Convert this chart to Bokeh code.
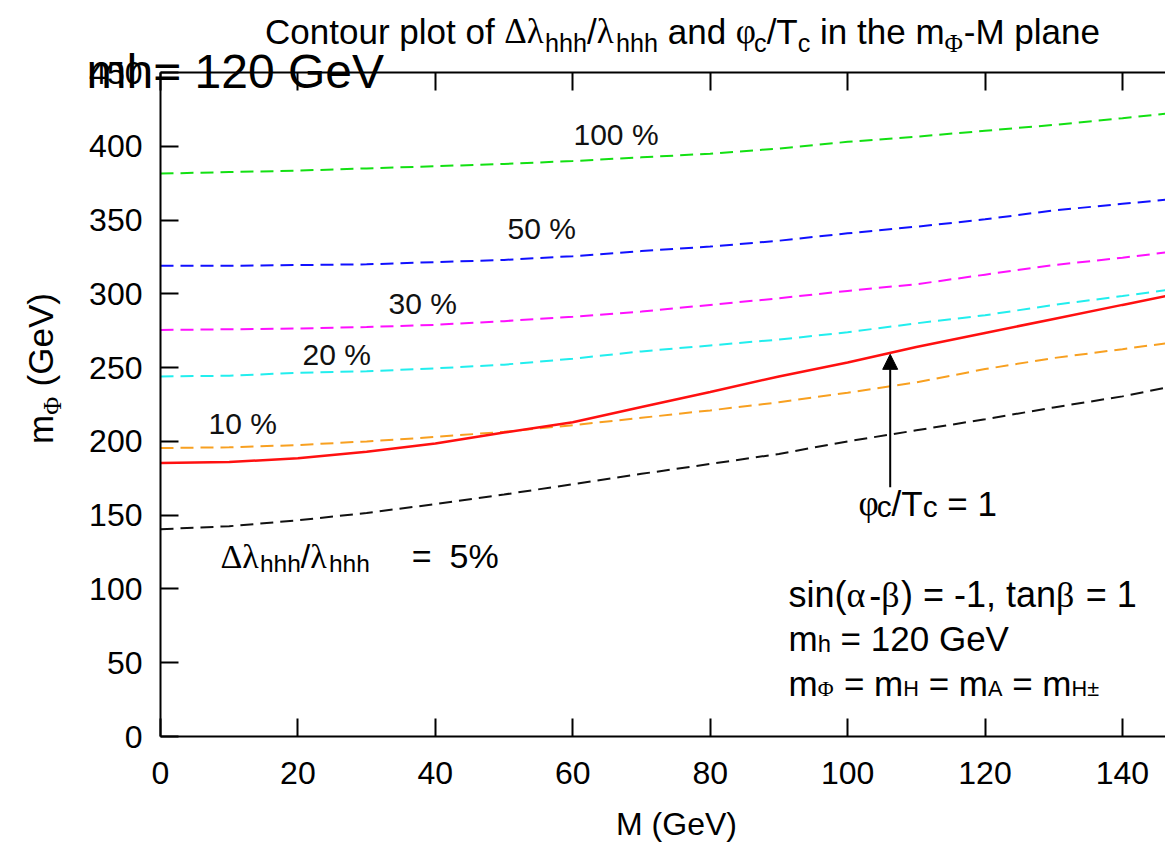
import math
from bokeh.plotting import figure
from bokeh.models import Label, Arrow, NormalHead, LinearAxis, FixedTicker, Range1d
from bokeh.embed import file_html
from bokeh.resources import INLINE

# ---------------- data ----------------
M = [0, 10, 20, 30, 40, 50, 60, 70, 80, 90, 100, 110, 120, 130, 140, 148]
dl_100 = [381.5, 382.5, 383.5, 385, 386.5, 388, 390, 392.5, 395, 398.5, 403, 406.5, 410.5, 414.5, 419, 423]
dl_50 = [319, 319, 319.5, 320, 321.5, 323, 325.5, 329, 332, 336, 341, 345.5, 350.5, 356.5, 361, 364.5]
dl_30 = [275.5, 276, 276.5, 277.5, 279, 281.5, 284.5, 288, 292.5, 297, 302, 306.5, 313, 319.5, 324.5, 329]
dl_20 = [244, 244.5, 246.5, 247.5, 249.5, 252, 256, 261, 265, 269, 274, 280, 285.5, 292.5, 298.5, 303.5]
dl_10 = [195.5, 196, 197.5, 200, 203, 206.5, 211, 216, 221, 226.5, 233, 240, 249, 256.5, 262.5, 267.5]
dl_5 = [140.5, 142.5, 146.5, 151.5, 157.5, 164, 171, 178, 184.7, 191.5, 200, 207.5, 215, 223, 230.5, 238]
phi_tc_1 = [185.3, 186, 188.5, 193, 198.5, 206, 213, 223.3, 233.5, 244, 253.5, 264, 273.5, 283, 292.5, 300]

x_ticks = [0, 20, 40, 60, 80, 100, 120, 140]
y_ticks = [0, 50, 100, 150, 200, 250, 300, 350, 400, 450]
Y_MAX = 450

# ---------------- geometry ----------------
W_FIG, H_FIG = 1165, 845
X0, Y0 = 160.0, 736.0          # canvas px of the data origin
XS = 6.871                      # px per unit of M
YS = (Y0 - 72.0) / Y_MAX        # px per unit of m_Phi
X_START, X_END = -X0 / XS, (W_FIG - X0) / XS
Y_START, Y_END = (Y0 - H_FIG) / YS, Y0 / YS
MID = 0.355                     # baseline lies this many em below a 'middle' anchor


def dx(px):   # canvas px -> data x
    return (px - X0) / XS


def dy(py):   # canvas px -> data y
    return (Y0 - py) / YS


p = figure(width=W_FIG, height=H_FIG,
           x_range=Range1d(X_START, X_END), y_range=Range1d(Y_START, Y_END),
           output_backend="svg", toolbar_location=None, title_location=None,
           x_axis_location=None, y_axis_location=None,
           min_border=0, min_border_left=0, min_border_right=0,
           min_border_top=0, min_border_bottom=0)
p.outline_line_color = None
p.grid.visible = False
p.background_fill_color = "white"
p.border_fill_color = "white"

FONT = "Liberation Sans"
SERIF_FONT = "Liberation Serif"


def make_axis(ticks, loc, bounds, labels=True, standoff=20):
    ax = LinearAxis(fixed_location=loc, bounds=bounds)
    ax.ticker = FixedTicker(ticks=ticks)
    ax.major_tick_in = 18
    ax.major_tick_out = 0
    ax.minor_tick_line_color = None
    ax.axis_line_width = 2
    ax.major_tick_line_width = 2
    ax.axis_line_color = "black"
    ax.major_tick_line_color = "black"
    ax.major_label_text_font = FONT
    ax.major_label_text_font_size = "32px"
    ax.major_label_standoff = standoff
    ax.major_label_text_color = "black" if labels else None
    return ax


p.add_layout(make_axis(x_ticks, 0, (0, X_END), standoff=25), "below")
p.add_layout(make_axis(y_ticks, 0, (0, Y_MAX), standoff=18), "left")
p.add_layout(make_axis(x_ticks, Y_MAX, (0, X_END), labels=False), "above")

# ---------------- curves ----------------
dash = "13 7"
p.line(M, dl_100, line_color="#12e012", line_width=2, line_dash=dash)
p.line(M, dl_50, line_color="#1010ff", line_width=2, line_dash=dash)
p.line(M, dl_30, line_color="#ff10ff", line_width=2, line_dash=dash)
p.line(M, dl_20, line_color="#22eeee", line_width=2, line_dash=dash)
p.line(M, dl_10, line_color="#f8a020", line_width=2, line_dash=dash)
p.line(M, dl_5, line_color="#111111", line_width=2, line_dash=dash)
p.line(M, phi_tc_1, line_color="#ff1010", line_width=2.5)

p.add_layout(Arrow(end=NormalHead(size=15, fill_color="black", line_color="black"),
                   x_start=106.2, y_start=169, x_end=106.2, y_end=259,
                   line_color="black", line_width=2))

# ---------------- text helpers ----------------
SANS = {' ': 278, 'C': 722, 'o': 556, 'n': 556, 't': 278, 'u': 556, 'r': 333, 'p': 556,
        'l': 222, 'f': 278, 'h': 556, '/': 278, 'a': 556, 'd': 556, 'c': 500, 'T': 611,
        'i': 222, 'e': 556, 'm': 833, '-': 333, 'M': 833, 'G': 778, 'V': 667, '=': 584,
        '%': 889, '(': 333, ')': 333, 's': 500, ',': 278, 'A': 667, 'H': 722, '±': 584}
SERIF = {'Δ': 612, 'λ': 549, 'φ': 521, 'Φ': 763, 'α': 631, 'β': 549}


def tw(s, size, serif=False):
    tab = SERIF if serif else SANS
    return sum(tab.get(ch, 556) for ch in s) * size / 1000.0


def label_at(px, py, text, size, align="left", color="black", font=FONT, angle=0.0):
    """Place text whose alphabetic baseline starts at canvas px (px, py)."""
    if angle == 0:
        ax_, ay_ = px, py - MID * size
    else:
        ax_, ay_ = px - MID * size, py
    p.add_layout(Label(x=dx(ax_), y=dy(ay_), text=text, text_font=font,
                       text_font_size=f"{size:.1f}px", text_align=align,
                       text_baseline="middle", angle=angle, text_color=color))


def rich(px, py, parts, size, align="left", angle=0.0, sub_scale=0.7, sub_drop=0.2):
    """parts: list of (text, is_sub, is_serif) or ('', 'gap', px). (px, py) = baseline start."""
    items = []
    for part in parts:
        if part[1] == "gap":
            items.append((None, 0, part[2], False, False))
            continue
        t, sub, serif = part
        fs = size * (sub_scale if sub else 1.0)
        items.append((t, fs, tw(t, fs, serif), sub, serif))
    total = sum(it[2] for it in items)
    cum = -total / 2.0 if align == "center" else 0.0
    for t, fs, w, sub, serif in items:
        if t is None:
            cum += w
            continue
        lead = len(t) - len(t.lstrip(" "))
        shown = t.strip(" ")
        pos = cum + tw(" " * lead, fs, False)
        drop = size * sub_drop if sub else 0.0
        if angle == 0:
            bx, by = px + pos, py + drop
        else:
            bx, by = px + drop, py - pos
        if shown:
            label_at(bx, by, shown, fs, font=(SERIF_FONT if serif else FONT), angle=angle)
        cum += w


# title
rich(682, 43, [("Contour plot of ", False, False), ("Δλ", False, True), ("hhh", True, False),
               ("/", False, False), ("λ", False, True), ("hhh", True, False),
               (" and ", False, False), ("φ", False, True), ("c", True, False),
               ("/T", False, False), ("c", True, False), (" in the m", False, False),
               ("Φ", True, True), ("-M plane", False, False)],
     35, align="center", sub_scale=0.72, sub_drop=0.25)

# axis titles
rich(52, 368, [("m", False, False), ("Φ", True, True), (" (GeV)", False, False)],
     35, align="center", angle=math.pi / 2, sub_scale=0.7, sub_drop=0.25)
label_at(676, 835, "M (GeV)", 32, align="center")

# contour labels
for txt, px_, py_ in [("100 %", 573, 145), ("50 %", 507, 239), ("30 %", 388, 314),
                      ("20 %", 302, 365), ("10 %", 208, 434)]:
    label_at(px_, py_, txt, 30, color="#111111")

rich(220, 568, [("Δλ", False, True), ("hhh", True, False), ("/", False, False),
                ("λ", False, True), ("hhh", True, False), ("", "gap", 42),
                ("=", False, False), ("", "gap", 18), ("5%", False, False)],
     34, sub_scale=0.72, sub_drop=0.12)

rich(858, 515, [("φ", False, True), ("c", True, False), ("/T", False, False),
                ("c", True, False), (" = 1", False, False)],
     35, sub_scale=0.85, sub_drop=0.05)

# parameter block
rich(788, 607, [("sin(", False, False), ("α", False, True), ("-", False, False),
                ("β", False, True), (") = -1, tan", False, False), ("β", False, True),
                (" = 1", False, False)], 36)
rich(788, 650, [("m", False, False), ("h", True, False), (" = 120 GeV", False, False)],
     35, sub_scale=0.68, sub_drop=0.03)
rich(788, 695, [("m", False, False), ("Φ", True, True), (" = m", False, False),
                ("H", True, False), (" = m", False, False), ("A", True, False),
                (" = m", False, False), ("H±", True, False)],
     35, sub_scale=0.62, sub_drop=0.03)

# overlaid annotation text (crisp, larger) in the top-left corner
label_at(86, 88, "mh= 120 GeV", 48)

open("out.html", "w").write(file_html(p, INLINE))
